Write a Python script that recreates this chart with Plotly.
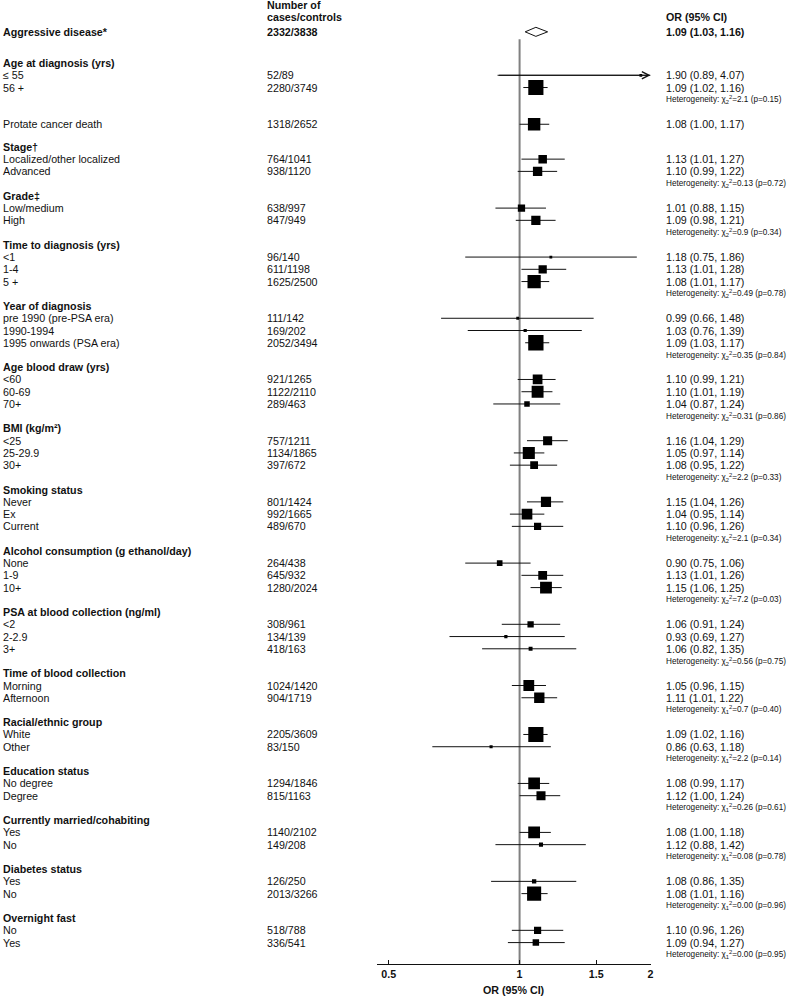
import math
import plotly.graph_objects as go

# overall estimate
overall_label = "Aggressive disease*"
overall_cases = "2332/3838"
overall_or, overall_lo, overall_hi = 1.09, 1.03, 1.16

# standalone row between the age group and stage
death_label = "Protate cancer death"
death_cases = "1318/2652"
death_or, death_lo, death_hi = 1.08, 1.00, 1.17

group_titles = [
    "Age at diagnosis (yrs)", "Stage†", "Grade‡", "Time to diagnosis (yrs)",
    "Year of diagnosis", "Age blood draw (yrs)", "BMI (kg/m²)", "Smoking status",
    "Alcohol consumption (g ethanol/day)", "PSA at blood collection (ng/ml)",
    "Time of blood collection", "Racial/ethnic group", "Education status",
    "Currently married/cohabiting", "Diabetes status", "Overnight fast",
]
het_df = [2, 2, 2, 2, 2, 2, 2, 2, 2, 2, 1, 1, 1, 1, 1, 1]
het_chi = ["2.1", "0.13", "0.9", "0.49", "0.35", "0.31", "2.2", "2.1",
           "7.2", "0.56", "0.7", "2.2", "0.26", "0.08", "0.00", "0.00"]
het_p = ["0.15", "0.72", "0.34", "0.78", "0.84", "0.86", "0.33", "0.34",
         "0.03", "0.75", "0.40", "0.14", "0.61", "0.78", "0.96", "0.95"]

sub_group = [0, 0, 1, 1, 2, 2, 3, 3, 3, 4, 4, 4, 5, 5, 5, 6, 6, 6, 7, 7, 7,
             8, 8, 8, 9, 9, 9, 10, 10, 11, 11, 12, 12, 13, 13, 14, 14, 15, 15]
sub_labels = [
    "≤ 55", "56 +",
    "Localized/other localized", "Advanced",
    "Low/medium", "High",
    "<1", "1-4", "5 +",
    "pre 1990 (pre-PSA era)", "1990-1994", "1995 onwards (PSA era)",
    "<60", "60-69", "70+",
    "<25", "25-29.9", "30+",
    "Never", "Ex", "Current",
    "None", "1-9", "10+",
    "<2", "2-2.9", "3+",
    "Morning", "Afternoon",
    "White", "Other",
    "No degree", "Degree",
    "Yes", "No",
    "Yes", "No",
    "No", "Yes",
]
sub_cases = [
    "52/89", "2280/3749",
    "764/1041", "938/1120",
    "638/997", "847/949",
    "96/140", "611/1198", "1625/2500",
    "111/142", "169/202", "2052/3494",
    "921/1265", "1122/2110", "289/463",
    "757/1211", "1134/1865", "397/672",
    "801/1424", "992/1665", "489/670",
    "264/438", "645/932", "1280/2024",
    "308/961", "134/139", "418/163",
    "1024/1420", "904/1719",
    "2205/3609", "83/150",
    "1294/1846", "815/1163",
    "1140/2102", "149/208",
    "126/250", "2013/3266",
    "518/788", "336/541",
]
sub_or = [1.90, 1.09, 1.13, 1.10, 1.01, 1.09, 1.18, 1.13, 1.08, 0.99, 1.03, 1.09,
          1.10, 1.10, 1.04, 1.16, 1.05, 1.08, 1.15, 1.04, 1.10, 0.90, 1.13, 1.15,
          1.06, 0.93, 1.06, 1.05, 1.11, 1.09, 0.86, 1.08, 1.12, 1.08, 1.12,
          1.08, 1.08, 1.10, 1.09]
sub_lo = [0.89, 1.02, 1.01, 0.99, 0.88, 0.98, 0.75, 1.01, 1.01, 0.66, 0.76, 1.03,
          0.99, 1.01, 0.87, 1.04, 0.97, 0.95, 1.04, 0.95, 0.96, 0.75, 1.01, 1.06,
          0.91, 0.69, 0.82, 0.96, 1.01, 1.02, 0.63, 0.99, 1.00, 1.00, 0.88,
          0.86, 1.01, 0.96, 0.94]
sub_hi = [4.07, 1.16, 1.27, 1.22, 1.15, 1.21, 1.86, 1.28, 1.17, 1.48, 1.39, 1.17,
          1.21, 1.19, 1.24, 1.29, 1.14, 1.22, 1.26, 1.14, 1.26, 1.06, 1.26, 1.25,
          1.24, 1.27, 1.35, 1.15, 1.22, 1.16, 1.18, 1.17, 1.24, 1.18, 1.42,
          1.35, 1.16, 1.26, 1.27]

x_ticks = [0.5, 1, 1.5, 2]
x_min, x_max = 0.469, 2.0

FONT = "Arial, 'Liberation Sans', sans-serif"
INK = "#111111"
W, H = 789, 996
COL_LABEL, COL_CASES, COL_OR = 1, 266, 667


def fmt_or(o, lo, hi):
    return f"{o:.2f} ({lo:.2f}, {hi:.2f})"


def box_size(lo, hi):
    # square area follows precision (inverse of the CI width on log scale)
    return max(1.95 / math.log(hi / lo), 2.8)


# row positions (one unit = one text line, rows run downwards)
overall_row = -9.4
rows = []  # (kind, y, index)
y = -6.85
for g in range(len(group_titles)):
    rows.append(("title", y, g))
    y += 1
    for i, grp in enumerate(sub_group):
        if grp == g:
            rows.append(("sub", y, i))
            y += 1
    rows.append(("het", y, g))
    y += 1
    if g == 0:
        y = y + 1
        rows.append(("death", y, None))
        y = 0

annotations = []


def text(x_px, yv, s, size=10.7, bold=False):
    annotations.append(dict(
        x=x_px / W, xref="paper", y=yv, yref="y", xanchor="left", yanchor="middle",
        text=f"<b>{s}</b>" if bold else s, showarrow=False,
        font=dict(family=FONT, size=size, color=INK),
    ))


# headers
text(COL_CASES, -11.6, "Number of", bold=True)
text(COL_CASES, -10.6, "cases/controls", bold=True)
text(COL_OR, -10.6, "OR (95% CI)", bold=True)
text(COL_LABEL, overall_row, overall_label, bold=True)
text(COL_CASES, overall_row, overall_cases, bold=True)
text(COL_OR, overall_row, fmt_or(overall_or, overall_lo, overall_hi), bold=True)

ci_x, ci_y, sq_x, sq_y, sq_s = [], [], [], [], []


def add_est(yv, o, lo, hi):
    ci_x.extend([lo, min(hi, x_max), None])
    ci_y.extend([yv, yv, None])
    sq_x.append(o)
    sq_y.append(yv)
    sq_s.append(box_size(lo, hi))
    if hi > x_max:
        annotations.append(dict(
            x=math.log10(x_max), y=yv, xref="x", yref="y",
            ax=math.log10(lo), ay=yv, axref="x", ayref="y",
            showarrow=True, arrowhead=5, arrowsize=1.4, arrowwidth=1,
            arrowcolor=INK, text="",
        ))


for kind, yv, idx in rows:
    if kind == "title":
        text(COL_LABEL, yv, group_titles[idx], bold=True)
    elif kind == "het":
        text(COL_OR, yv, f"Heterogeneity: χ<sub>{het_df[idx]}</sub><sup>2</sup>"
                         f"={het_chi[idx]} (p={het_p[idx]})", size=8.2)
    elif kind == "death":
        text(COL_LABEL, yv, death_label)
        text(COL_CASES, yv, death_cases)
        text(COL_OR, yv, fmt_or(death_or, death_lo, death_hi))
        add_est(yv, death_or, death_lo, death_hi)
    else:
        text(COL_LABEL, yv, sub_labels[idx])
        text(COL_CASES, yv, sub_cases[idx])
        text(COL_OR, yv, fmt_or(sub_or[idx], sub_lo[idx], sub_hi[idx]))
        add_est(yv, sub_or[idx], sub_lo[idx], sub_hi[idx])

y_bottom = y - 0.25
fig = go.Figure()

# reference line at OR = 1
fig.add_trace(go.Scatter(x=[1, 1], y=[overall_row + 0.6, y_bottom], mode="lines",
                         line=dict(color="#808080", width=2), hoverinfo="skip"))
# confidence intervals
fig.add_trace(go.Scatter(x=ci_x, y=ci_y, mode="lines",
                         line=dict(color=INK, width=1), hoverinfo="skip"))
# point estimates
fig.add_trace(go.Scatter(x=sq_x, y=sq_y, mode="markers",
                         marker=dict(symbol="square", size=sq_s, color="#000000",
                                     opacity=1, line=dict(width=0))))
# overall diamond
fig.add_trace(go.Scatter(
    x=[overall_lo, overall_or, overall_hi, overall_or, overall_lo],
    y=[overall_row, overall_row - 0.37, overall_row, overall_row + 0.37, overall_row],
    mode="lines", fill="toself", fillcolor="white",
    line=dict(color=INK, width=1), hoverinfo="skip"))

annotations.append(dict(
    x=0.5 * (378 + 653) / W, xref="paper", y=0, yref="paper", yanchor="top",
    yshift=-18, text="<b>OR (95% CI)</b>", showarrow=False,
    font=dict(family=FONT, size=10.7, color=INK),
))

fig.update_layout(
    width=W, height=H,
    margin=dict(l=0, r=0, t=0, b=32),
    plot_bgcolor="white", paper_bgcolor="white",
    showlegend=False,
    annotations=annotations,
    xaxis=dict(
        type="log", domain=[378 / W, 653 / W],
        range=[math.log10(x_min), math.log10(x_max)],
        tickvals=x_ticks, ticktext=[f"<b>{t:g}</b>" for t in x_ticks],
        ticks="inside", ticklen=4, tickcolor=INK,
        showline=True, linecolor=INK, linewidth=1,
        showgrid=False, zeroline=False,
        tickfont=dict(family=FONT, size=10.7, color=INK),
    ),
    yaxis=dict(range=[y_bottom, -12.0], visible=False,
               showgrid=False, zeroline=False),
)

fig.write_html("out.html", config={"displayModeBar": False},
               post_script="document.body.style.margin='0';"
                           "document.body.style.overflow='hidden';")
